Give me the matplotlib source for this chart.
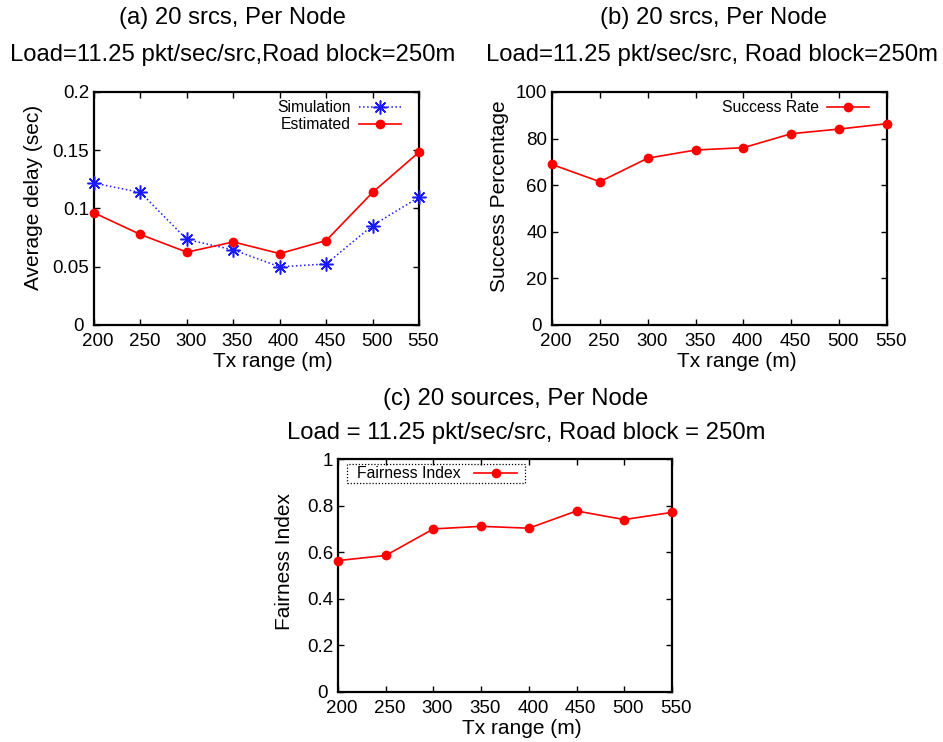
import matplotlib
matplotlib.use("Agg")
import matplotlib.pyplot as plt
from matplotlib.patches import Rectangle
from matplotlib.transforms import ScaledTranslation

plt.rcParams['font.family'] = ['Liberation Sans', 'DejaVu Sans']

# Data
tx_range = [200, 250, 300, 350, 400, 450, 500, 550]
delay_simulation = [0.1218, 0.1138, 0.0734, 0.0645, 0.0499, 0.0524, 0.0854, 0.1097]
delay_estimated = [0.0963, 0.0777, 0.0625, 0.0713, 0.0613, 0.0725, 0.1138, 0.1484]
success_rate = [68.9, 61.5, 71.6, 75.1, 76.1, 82.1, 84.1, 86.4]
fairness_index = [0.564, 0.586, 0.700, 0.711, 0.703, 0.777, 0.740, 0.771]

delay_ticks = [0, 0.05, 0.1, 0.15, 0.2]
delay_ticklabels = ['0', '0.05', '0.1', '0.15', '0.2']
success_ticks = [0, 20, 40, 60, 80, 100]
fair_ticks = [0, 0.2, 0.4, 0.6, 0.8, 1.0]
fair_ticklabels = ['0', '0.2', '0.4', '0.6', '0.8', '1']

W, H = 943, 742
fig = plt.figure(figsize=(W / 100, H / 100), dpi=100)


def px_axes(left, right, top, bottom):
    return fig.add_axes([left / W, 1 - bottom / H, (right - left) / W, (bottom - top) / H])


def shift(dx_px, dy_px=0):
    return ScaledTranslation(dx_px / 100, dy_px / 100, fig.dpi_scale_trans)


def style(ax, yticks, ylabels, ylim, ylabel, ylabel_x, ylabel_y):
    ax.set_xlim(200, 550)
    ax.set_ylim(*ylim)
    ax.set_xticks(tx_range)
    ax.set_xticklabels([str(v) for v in tx_range])
    ax.set_yticks(yticks)
    ax.set_yticklabels(ylabels)
    ax.tick_params(direction='in', length=4, width=1, top=True, right=True,
                   labelsize=13.5, colors='black')
    ax.tick_params(axis='x', pad=6)
    ax.tick_params(axis='y', pad=3.5)
    for s in ax.spines.values():
        s.set_linewidth(1.6)
    # tick labels sit slightly right of their ticks; the zero label is pulled left
    for lab in ax.get_xticklabels():
        lab.set_transform(lab.get_transform() + shift(4))
    zero = ax.get_yticklabels()[0]
    zero.set_transform(zero.get_transform() + shift(-5))
    ax.set_xlabel('Tx range (m)', fontsize=15, va='center', ha='center')
    ax.xaxis.set_label_coords(0.551, -0.157)
    ax.set_ylabel(ylabel, fontsize=15, va='center', ha='center')
    ax.yaxis.set_label_coords(ylabel_x, ylabel_y)


red = '#ff0000'
blue = '#1a1aff'
leg_kw = dict(loc='upper right', frameon=False, markerfirst=False, fontsize=11.3,
              handlelength=2.7, handletextpad=0.5, borderaxespad=0, borderpad=0,
              labelspacing=0.13)

# (a) average delay
ax1 = px_axes(94, 419, 92, 325)
ax1.plot(tx_range, delay_simulation, color=blue, linestyle=':', linewidth=1.1,
         marker=(8, 2, 0), markersize=10, markeredgewidth=1.1, label='Simulation',
         clip_on=False, zorder=3)
ax1.plot(tx_range, delay_estimated, color=red, linestyle='-', linewidth=1.2,
         marker='o', markersize=6, label='Estimated', clip_on=False, zorder=4)
style(ax1, delay_ticks, delay_ticklabels, (0, 0.2), 'Average delay (sec)', -0.185, 0.549)
ax1.legend(bbox_to_anchor=(0.945, 0.965), **leg_kw)

# (b) success percentage
ax2 = px_axes(552, 887, 92, 325)
ax2.plot(tx_range, success_rate, color=red, linestyle='-', linewidth=1.2,
         marker='o', markersize=6, label='Success Rate', clip_on=False, zorder=4)
style(ax2, success_ticks, [str(v) for v in success_ticks], (0, 100),
      'Success Percentage', -0.158, 0.552)
ax2.legend(bbox_to_anchor=(0.946, 0.965), **leg_kw)

# (c) fairness index, legend framed by a dotted box
ax3 = px_axes(338, 672, 459, 692)
ax3.plot(tx_range, fairness_index, color=red, linestyle='-', linewidth=1.2,
         marker='o', markersize=6, label='Fairness Index', clip_on=False, zorder=4)
style(ax3, fair_ticks, fair_ticklabels, (0, 1), 'Fairness Index', -0.159, 0.562)
leg3 = ax3.legend(loc='upper left', frameon=False, markerfirst=False, fontsize=11.3,
                  handlelength=2.75, handletextpad=0.85,
                  bbox_to_anchor=((357 - 338) / 334, 1 - 7 / 233),
                  borderaxespad=0, borderpad=0)
fig.canvas.draw()
bb = leg3.get_window_extent()
pad_l, pad_r, pad_v = 10, 8, 2
fig.add_artist(Rectangle(((bb.x0 - pad_l) / W, (bb.y0 - pad_v) / H),
                         (bb.width + pad_l + pad_r) / W, (bb.height + 2 * pad_v) / H,
                         transform=fig.transFigure, fill=False, edgecolor='black',
                         linestyle=(0, (1, 1.5)), linewidth=0.9, zorder=5))

# Titles
title_kw = dict(ha='center', va='center', fontsize=17.2)
fig.text(232 / W, 1 - 18 / H, '(a) 20 srcs, Per Node', **title_kw)
fig.text(233 / W, 1 - 55 / H, 'Load=11.25 pkt/sec/src,Road block=250m', **title_kw)
fig.text(713 / W, 1 - 18 / H, '(b) 20 srcs, Per Node', **title_kw)
fig.text(712 / W, 1 - 55 / H, 'Load=11.25 pkt/sec/src, Road block=250m', **title_kw)
fig.text(516 / W, 1 - 399 / H, '(c) 20 sources, Per Node', **title_kw)
fig.text(526 / W, 1 - 433 / H, 'Load = 11.25 pkt/sec/src, Road block = 250m', **title_kw)

fig.savefig('out.png', dpi=100)
